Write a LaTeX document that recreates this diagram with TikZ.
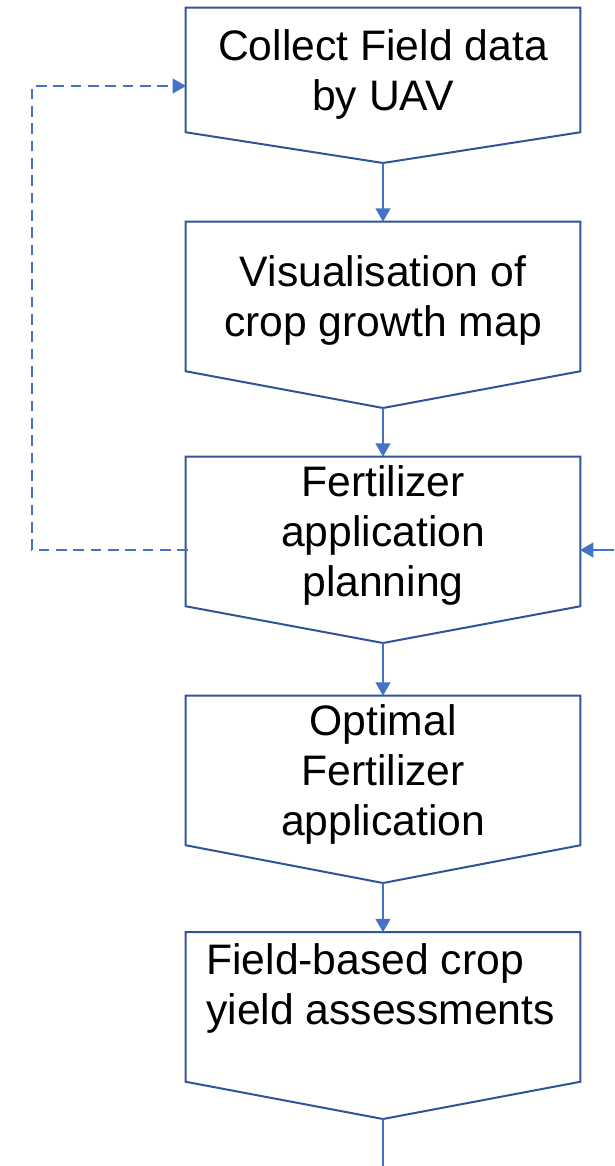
\documentclass[tikz,border=0pt]{standalone}
\usepackage{fontspec}
\setmainfont{Liberation Sans}
\usetikzlibrary{arrows.meta,calc}
\definecolor{boxblue}{HTML}{2F5597}
\definecolor{linkblue}{HTML}{4472C4}
\begin{document}
\begin{tikzpicture}[x=0.75pt,y=-0.75pt,
  frame/.style={inner sep=0pt, draw=none, minimum width=295.5pt},
  boxtxt/.style={inner sep=0pt, align=center, font=\fontsize{32}{37.5}\selectfont},
  outline/.style={draw=boxblue, line width=1.5pt, line join=miter},
  plain/.style={draw=linkblue, line width=1.5pt},
  link/.style={plain, -{Triangle[length=10pt,width=11pt]}},
  dlink/.style={link, dash pattern=on 8pt off 5pt}]
\useasboundingbox (0,0) rectangle (614,1166);

% boxes (rectangular part as node, tip as coordinate)
\node[frame, minimum height=93pt] (b1) at (383,70) {};
\coordinate (p1) at (383,163);
\node[frame, minimum height=111.75pt] (b2) at (383,296.5) {};
\coordinate (p2) at (383,408);
\node[frame, minimum height=111.75pt] (b3) at (383,531.5) {};
\coordinate (p3) at (383,643);
\node[frame, minimum height=111.75pt] (b4) at (383,770.5) {};
\coordinate (p4) at (383,883);
\node[frame, minimum height=111.75pt] (b5) at (383,1007) {};
\coordinate (p5) at (383,1119);

% texts
\node[boxtxt] (t1) at (383,74) {Collect Field data\\by UAV};
\node[boxtxt] (t2) at (383,300.5) {Visualisation of\\crop growth map};
\node[boxtxt] (t3) at (383,535.5) {Fertilizer\\application\\planning};
\node[boxtxt] (t4) at (383,774.5) {Optimal\\Fertilizer\\application};
\node[boxtxt, align=left, anchor=north west] (t5) at (206,943) {Field-based crop\\yield assessments};

\foreach \b/\p in {b1/p1,b2/p2,b3/p3,b4/p4,b5/p5}{
  \draw[outline] (\b.north west) -- (\b.north east) -- (\b.south east) -- (\p) -- (\b.south west) -- cycle;
}

% vertical connectors
\draw[link] (p1) -- (b2.north);
\draw[link] (p2) -- (b3.north);
\draw[link] (p3) -- (b4.north);
\draw[link] (p4) -- (b5.north);
\coordinate (bend) at (383,1166);
\draw[plain] (p5) -- (bend);

% feedback loop (dashed)
\coordinate (d0) at (188,550);
\coordinate (d1) at (32,550);
\coordinate (d2) at (32,86);
\coordinate (in1) at (186,86);
\draw[dlink] (d0) -- (d1) -- (d2) -- (in1);

% incoming arrow from right
\coordinate (r0) at (614,550);
\coordinate (r1) at (580,550);
\draw[link] (r0) -- (r1);
\end{tikzpicture}
\end{document}
